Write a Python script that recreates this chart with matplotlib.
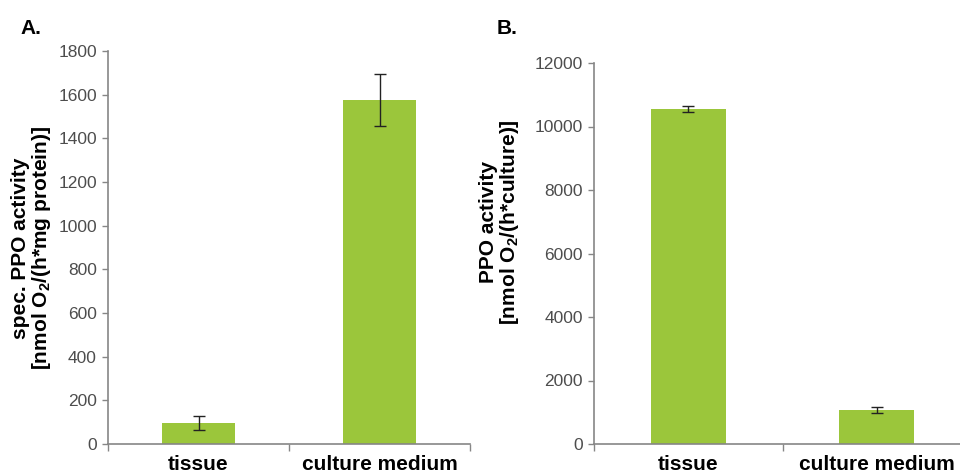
import numpy as np
import matplotlib.pyplot as plt

plt.rcParams['font.family'] = ['Liberation Sans', 'DejaVu Sans']

# ── DATA ──────────────────────────────────────────────────────────────────────
categories = ["tissue", "culture medium"]

spec_activity = [97, 1575]        # nmol O2 / (h * mg protein)
spec_activity_err = [32, 120]

total_activity = [10550, 1080]    # nmol O2 / (h * culture)
total_activity_err = [80, 90]

BAR_GREEN = '#9bc63b'
AXIS_GRAY = '#868686'
TICK_TEXT = '#4d4d4d'


def style_axis(ax, ymax, ystep):
    x = np.arange(len(categories))
    ax.set_xlim(-0.5, len(categories) - 0.5)
    ax.set_ylim(0, ymax)
    ax.set_yticks(np.arange(0, ymax + 1, ystep))
    ax.set_xticks(x)
    ax.set_xticklabels(categories, fontsize=15, fontweight='bold', color='black')
    ax.tick_params(axis='x', length=0, pad=8)
    # category boundary ticks, Excel style
    ax.set_xticks(np.arange(-0.5, len(categories), 1.0), minor=True)
    ax.tick_params(axis='x', which='minor', length=5, width=1, color=AXIS_GRAY, direction='out')
    ax.tick_params(axis='y', length=4, width=1, color=AXIS_GRAY, direction='out',
                   labelsize=12.5, labelcolor=TICK_TEXT, pad=4)
    for side in ('top', 'right'):
        ax.spines[side].set_visible(False)
    for side in ('left', 'bottom'):
        ax.spines[side].set_color(AXIS_GRAY)
        ax.spines[side].set_linewidth(1.2)


fig = plt.figure(figsize=(9.6, 4.75), dpi=100)

# ── A: specific activity ─────────────────────────────────────────────────────
ax = fig.add_axes([108 / 960, 31 / 475, 362 / 960, 393 / 475])
x = np.arange(len(categories))
ax.bar(x, spec_activity, width=0.4, color=BAR_GREEN, zorder=2)
ax.errorbar(x, spec_activity, yerr=spec_activity_err, fmt='none', ecolor='#222222',
            elinewidth=1, capsize=4, capthick=1, zorder=3)
style_axis(ax, 1800, 200)
fig.text(32 / 960, 1 - 248 / 475, "spec. PPO activity\n[nmol O$_\\mathregular{2}$/(h*mg protein)]",
         rotation=90, ha='center', va='center', fontsize=15, fontweight='bold',
         multialignment='center', linespacing=1.05)
fig.text(20 / 960, 1 - 28 / 475, "A.", fontsize=15, fontweight='bold', ha='left', va='center')

# ── B: total activity per culture ────────────────────────────────────────────
ax = fig.add_axes([594 / 960, 31 / 475, 377 / 960, 381 / 475])
ax.bar(x, total_activity, width=0.4, color=BAR_GREEN, zorder=2)
ax.errorbar(x, total_activity, yerr=total_activity_err, fmt='none', ecolor='#222222',
            elinewidth=1, capsize=4, capthick=1, zorder=3)
style_axis(ax, 12000, 2000)
fig.text(500 / 960, 1 - 222 / 475, "PPO activity\n[nmol O$_\\mathregular{2}$/(h*culture)]",
         rotation=90, ha='center', va='center', fontsize=15, fontweight='bold',
         multialignment='center', linespacing=1.05)
fig.text(497 / 960, 1 - 28 / 475, "B.", fontsize=15, fontweight='bold', ha='left', va='center')

fig.savefig("out.png", dpi=100, facecolor='white')
